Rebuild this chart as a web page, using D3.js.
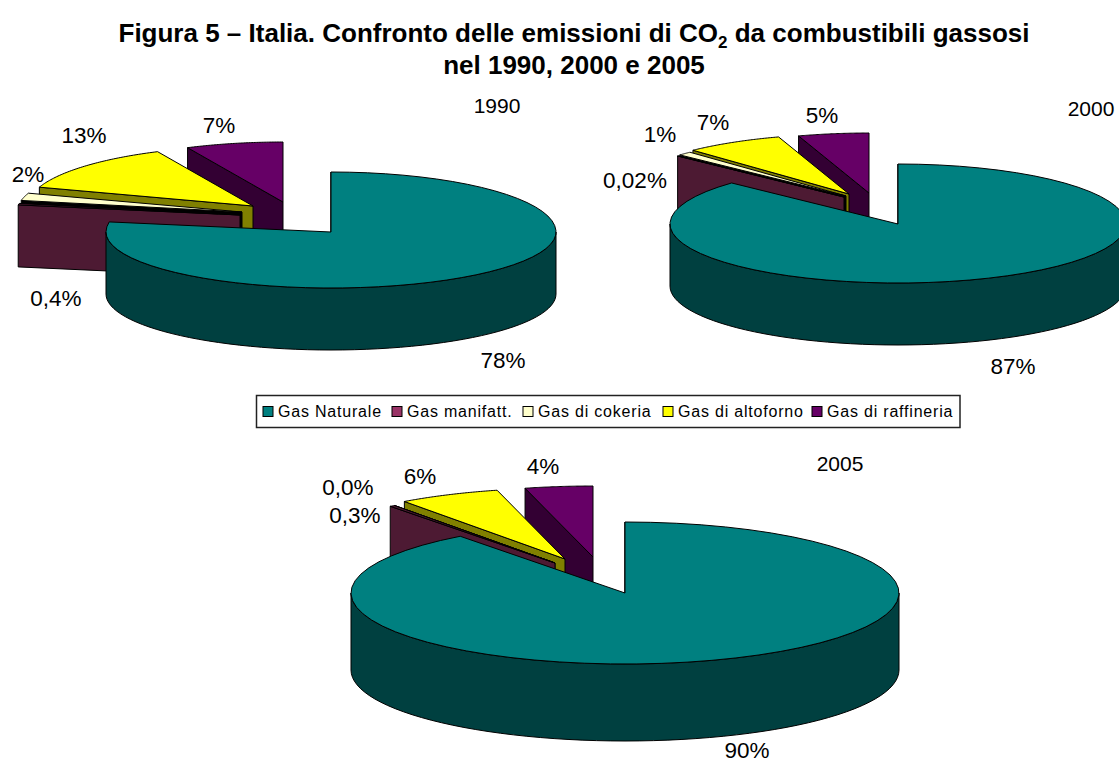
<!DOCTYPE html>
<html>
<head>
<meta charset="utf-8">
<title>Figura 5 - Italia</title>
<style>
  body { margin: 0; background: #fff; }
  text { font-family: "Liberation Sans", Arial, sans-serif; fill: #000; }
</style>
</head>
<body>
<div id="chart"></div>
<script src="https://d3js.org/d3.v7.min.js"></script>
<script>
// data
const categories = ["Gas Naturale", "Gas manifatt.", "Gas di cokeria", "Gas di altoforno", "Gas di raffineria"];
const values1990 = [78, 0.4, 2, 13, 7];
const values2000 = [87, 0.02, 1, 7, 5];
const values2005 = [90, 0.3, 0.0, 6, 4];
const labels1990 = ["78%", "0,4%", "2%", "13%", "7%"];
const labels2000 = ["87%", "0,02%", "1%", "7%", "5%"];
const labels2005 = ["90%", "0,3%", "0,0%", "6%", "4%"];

// colours per category: top of the slice and its darker side
const topColors = ["#008080", "#993366", "#ffffcc", "#ffff00", "#660066"];
const sideColors = ["#004040", "#4d1a33", "#000000", "#808000", "#330033"];

// layout of each pie: centre, radii (back and front), depth, how far each slice is pulled out, where labels go
const pies = [
  { year: "1990", values: values1990, labels: labels1990, cx: 331, cy: 232, rx: 225, ry: 60, ryFront: 56, depth: 62,
    yearPos: [497, 105],
    pull: [[0, 0], [-91, -17], [-89, -20], [-78, -26], [-48, -30]],
    labelPos: [[503, 360], [56, 298], [28, 174], [84, 135], [219, 125]] },
  { year: "2000", values: values2000, labels: labels2000, cx: 898, cy: 224, rx: 228, ry: 60, ryFront: 59, depth: 62,
    yearPos: [1091, 108],
    pull: [[0, 0], [-54, -27], [-52, -28], [-49, -30], [-29, -31]],
    labelPos: [[1013, 366], [635, 180], [660, 134], [713, 122], [822, 115]] },
  { year: "2005", values: values2005, labels: labels2005, cx: 625, cy: 593, rx: 274, ry: 71, ryFront: 71, depth: 77,
    yearPos: [840, 463],
    pull: [[0, 0], [-70, -30], [-70, -30], [-60, -34], [-32, -36]],
    labelPos: [[747, 750], [355, 515], [348, 487], [420, 476], [543, 466]] }
];

const svg = d3.select("#chart").append("svg")
  .attr("width", 1119)
  .attr("height", 764)
  .style("display", "block");

// title
const title = svg.append("text")
  .attr("text-anchor", "middle")
  .attr("font-weight", "bold")
  .attr("font-size", 26);
const line1 = title.append("tspan").attr("x", 574).attr("y", 42);
line1.append("tspan").text("Figura 5 – Italia. Confronto delle emissioni di CO");
line1.append("tspan").attr("dy", 6).attr("font-size", 17).text("2");
line1.append("tspan").attr("dy", -6).text(" da combustibili gassosi");
title.append("tspan").attr("x", 574).attr("y", 74).text("nel 1990, 2000 e 2005");

const pieLayout = d3.pie().sort(null).value(d => d).startAngle(0).endAngle(2 * Math.PI);
const line = d3.line();

function drawPie(p) {
  const g = svg.append("g");
  const slices = pieLayout(p.values);

  // point on the rim, angle clockwise from 12 o'clock
  const rim = (a, ax, ay) => {
    const c = Math.cos(a);
    return [ax + p.rx * Math.sin(a), ay - (c > 0 ? p.ry : p.ryFront) * c];
  };
  const arcPoints = (a0, a1, ax, ay) =>
    d3.range(0, 61).map(i => rim(a0 + (a1 - a0) * i / 60, ax, ay));

  // back slices first, the big one goes on top
  slices.map((s, i) => ({ s, i })).reverse().forEach(({ s, i }) => {
    const ax = p.cx + p.pull[i][0];
    const ay = p.cy + p.pull[i][1];
    const side = sideColors[i];
    const pathOf = pts => line(pts) + "Z";

    // cut face at the start of the slice
    const c0 = rim(s.startAngle, ax, ay);
    g.append("path")
      .attr("d", pathOf([[ax, ay], c0, [c0[0], c0[1] + p.depth], [ax, ay + p.depth]]))
      .attr("fill", side).attr("stroke", "#000");

    // outer wall, only the part facing us
    const a0 = Math.max(s.startAngle, Math.PI / 2);
    const a1 = Math.min(s.endAngle, 3 * Math.PI / 2);
    if (a1 > a0) {
      const upper = arcPoints(a0, a1, ax, ay);
      const lower = arcPoints(a1, a0, ax, ay + p.depth);
      g.append("path").attr("d", pathOf(upper.concat(lower)))
        .attr("fill", side).attr("stroke", "#000");
    }

    // top of the slice
    const topPts = [[ax, ay]].concat(arcPoints(s.startAngle, s.endAngle, ax, ay));
    g.append("path").attr("d", pathOf(topPts))
      .attr("fill", i === 1 ? side : topColors[i]).attr("stroke", "#000");
  });

  // value labels and year
  p.labels.forEach((t, i) => {
    g.append("text")
      .attr("x", p.labelPos[i][0]).attr("y", p.labelPos[i][1])
      .attr("text-anchor", "middle").attr("dominant-baseline", "central")
      .attr("font-size", 22.5).text(t);
  });
  g.append("text")
    .attr("x", p.yearPos[0]).attr("y", p.yearPos[1])
    .attr("text-anchor", "middle").attr("dominant-baseline", "central")
    .attr("font-size", 21).text(p.year);
}

pies.forEach(drawPie);

// legend
const legend = svg.append("g");
legend.append("rect")
  .attr("x", 256.5).attr("y", 395.5).attr("width", 703.5).attr("height", 32)
  .attr("fill", "#fff").attr("stroke", "#222").attr("stroke-width", 1.5);
const legendX = d3.scaleOrdinal().domain(categories).range([263, 392, 523, 663, 812]);
categories.forEach((c, i) => {
  legend.append("rect")
    .attr("x", legendX(c)).attr("y", 406.5).attr("width", 10).attr("height", 10)
    .attr("fill", topColors[i]).attr("stroke", "#000");
  legend.append("text")
    .attr("x", legendX(c) + 15).attr("y", 417)
    .attr("font-size", 16).attr("letter-spacing", 0.8).text(c);
});
</script>
</body>
</html>
